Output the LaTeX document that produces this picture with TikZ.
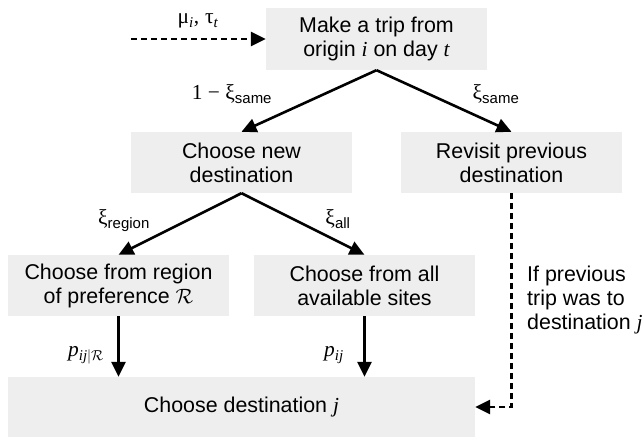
\documentclass[tikz,border=0pt]{standalone}
\usepackage{fontspec}
\setmainfont{Liberation Sans}
\newfontfamily\serifgr{Liberation Serif}
\usetikzlibrary{arrows.meta}
\definecolor{boxgray}{RGB}{238,238,238}
\newcommand{\mi}[1]{{\serifgr\itshape #1}}
\newcommand{\gr}[1]{{\serifgr #1}}

\begin{document}
\begin{tikzpicture}[x=1pt,y=-1pt,
	every node/.style={font=\fontsize{21.4}{24}\selectfont},
	box/.style={fill=boxgray,inner sep=0pt,minimum width=221pt,minimum height=61pt,align=center},
	arr/.style={line width=2.6pt,-{Triangle[length=15pt,width=14pt]}},
	darr/.style={arr,dash pattern=on 6pt off 4pt}]
	\useasboundingbox (0,0) rectangle (643,438);
	\node[box,minimum height=62pt] (trip) at (376.5,39) {Make a trip from\\origin \mi{i} on day \mi{t}};
	\node[box] (new) at (241.5,162.5) {Choose new\\destination};
	\node[box] (revisit) at (511.5,162.5) {Revisit previous\\destination};
	\node[box] (region) at (118.5,285.5) {Choose from region\\of preference $\mathcal{R}$};
	\node[box] (all) at (364.5,285.5) {Choose from all\\available sites};
	\node[box,minimum width=467pt,minimum height=60pt] (dest) at (241.5,407) {Choose destination \mi{j}};
	\coordinate (in) at (131,39);
	\draw[darr] (in) -- (trip.west);
	\draw[arr] (trip.south) -- (new.north);
	\draw[arr] (trip.south) -- (revisit.north);
	\draw[arr] (new.south) -- (region.north);
	\draw[arr] (new.south) -- (all.north);
	\draw[arr] (region.south) -- (region.south |- dest.north);
	\draw[arr] (all.south) -- (all.south |- dest.north);
	\draw[darr] (revisit.south) |- (dest.east);
	\node[anchor=base] (lmutau) at (198,24) {\gr{μ}\textsubscript{\mi{i}}\gr{,} \gr{τ}\textsubscript{\mi{t}}};
	\node[anchor=base] (lnew) at (232,100) {\gr{1 − ξ}\textsubscript{same}};
	\node[anchor=base] (lsame) at (496,100) {\gr{ξ}\textsubscript{same}};
	\node[anchor=base] (lregion) at (124,225) {\gr{ξ}\textsubscript{region}};
	\node[anchor=base] (lall) at (338,225) {\gr{ξ}\textsubscript{all}};
	\node[anchor=base] (lpr) at (86,357) {\mi{p}\textsubscript{\mi{ij}$|\mathcal{R}$}};
	\node[anchor=base] (lp) at (334,357) {\mi{p}\textsubscript{\mi{ij}}};
	\node[anchor=west,align=left,inner sep=0pt] (lprev) at (527,300) {If previous\\trip was to\\destination \mi{j}};
\end{tikzpicture}
\end{document}
